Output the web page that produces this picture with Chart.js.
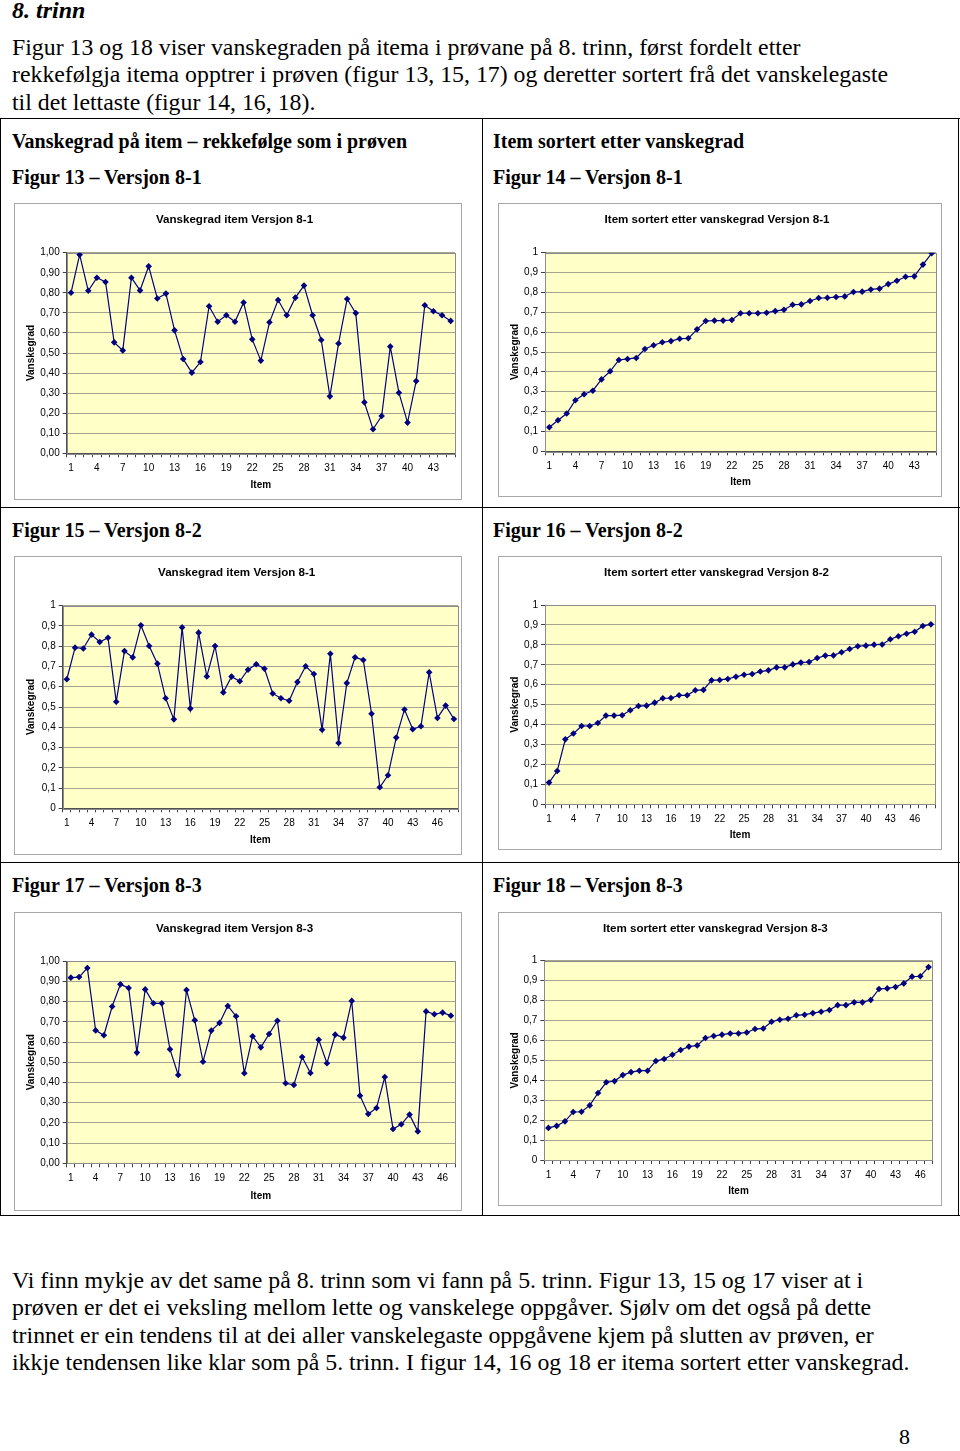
<!DOCTYPE html>
<html><head><meta charset="utf-8">
<script src="https://cdn.jsdelivr.net/npm/chart.js@4/dist/chart.umd.min.js"></script>
<style>
html,body{margin:0;padding:0;background:#fff;}
body{width:960px;height:1451px;position:relative;overflow:hidden;font-family:"Liberation Serif","Times New Roman",serif;color:#000;}
.t{position:absolute;white-space:nowrap;}
.h{font-size:24px;font-weight:bold;font-style:italic;left:12px;top:-2px;line-height:24px;}
.p{font-size:23.8px;line-height:27.3px;left:12px;}
.hd{font-size:20px;font-weight:bold;line-height:20px;}
.ln{position:absolute;background:#000;}
.box{position:absolute;border:1px solid #a8a8a8;box-sizing:border-box;background:#fff;}
canvas.c{position:absolute;}
</style></head>
<body>
<div class="t h">8. trinn</div>
<div class="t p" style="top:34px">Figur 13 og 18 viser vanskegraden på itema i prøvane på 8. trinn, først fordelt etter<br>rekkefølgja itema opptrer i prøven (figur 13, 15, 17) og deretter sortert frå det vanskelegaste<br>til det lettaste (figur 14, 16, 18).</div>

<div class="ln" style="left:0;top:118px;width:960px;height:1px"></div>
<div class="ln" style="left:0;top:118px;width:1px;height:1098px"></div>
<div class="ln" style="left:958px;top:118px;width:1px;height:1098px"></div>
<div class="ln" style="left:482px;top:118px;width:1px;height:1098px"></div>
<div class="ln" style="left:0;top:507px;width:960px;height:1px"></div>
<div class="ln" style="left:0;top:862px;width:960px;height:1px"></div>
<div class="ln" style="left:0;top:1215px;width:960px;height:1px"></div>

<div class="t hd" style="left:12px;top:131px">Vanskegrad på item – rekkefølge som i prøven</div>
<div class="t hd" style="left:493px;top:131px">Item sortert etter vanskegrad</div>
<div class="t hd" style="left:12px;top:167px">Figur 13 – Versjon 8-1</div>
<div class="t hd" style="left:493px;top:167px">Figur 14 – Versjon 8-1</div>
<div class="t hd" style="left:12px;top:520px">Figur 15 – Versjon 8-2</div>
<div class="t hd" style="left:493px;top:520px">Figur 16 – Versjon 8-2</div>
<div class="t hd" style="left:12px;top:875px">Figur 17 – Versjon 8-3</div>
<div class="t hd" style="left:493px;top:875px">Figur 18 – Versjon 8-3</div>

<div id="charts"></div>

<div class="t p" style="top:1267px">Vi finn mykje av det same på 8. trinn som vi fann på 5. trinn. Figur 13, 15 og 17 viser at i<br>prøven er det ei veksling mellom lette og vanskelege oppgåver. Sjølv om det også på dette<br>trinnet er ein tendens til at dei aller vanskelegaste oppgåvene kjem på slutten av prøven, er<br>ikkje tendensen like klar som på 5. trinn. I figur 14, 16 og 18 er itema sortert etter vanskegrad.</div>
<div class="t" style="left:899px;top:1426px;font-size:22px;line-height:22px">8</div>

<script>
// ---- data ----
const items45 = ['1','2','3','4','5','6','7','8','9','10','11','12','13','14','15','16','17','18','19','20','21','22','23','24','25','26','27','28','29','30','31','32','33','34','35','36','37','38','39','40','41','42','43','44','45'];
const items47 = ['1','2','3','4','5','6','7','8','9','10','11','12','13','14','15','16','17','18','19','20','21','22','23','24','25','26','27','28','29','30','31','32','33','34','35','36','37','38','39','40','41','42','43','44','45','46','47'];
const items48 = ['1','2','3','4','5','6','7','8','9','10','11','12','13','14','15','16','17','18','19','20','21','22','23','24','25','26','27','28','29','30','31','32','33','34','35','36','37','38','39','40','41','42','43','44','45','46','47','48'];

const yTicks2 = ['0,00','0,10','0,20','0,30','0,40','0,50','0,60','0,70','0,80','0,90','1,00'];
const yTicks1 = ['0','0,1','0,2','0,3','0,4','0,5','0,6','0,7','0,8','0,9','1'];

const fig13 = [0.80,0.99,0.81,0.875,0.854,0.553,0.513,0.875,0.812,0.932,0.772,0.796,0.613,0.47,0.402,0.455,0.733,0.656,0.688,0.656,0.752,0.568,0.462,0.653,0.764,0.688,0.776,0.836,0.688,0.565,0.284,0.547,0.769,0.699,0.254,0.12,0.186,0.532,0.302,0.153,0.36,0.738,0.708,0.688,0.66];
const fig14 = [0.121,0.156,0.19,0.257,0.287,0.305,0.362,0.403,0.46,0.465,0.47,0.515,0.534,0.549,0.555,0.567,0.569,0.614,0.656,0.658,0.658,0.661,0.695,0.695,0.695,0.698,0.706,0.713,0.738,0.74,0.757,0.772,0.773,0.777,0.78,0.802,0.804,0.815,0.819,0.842,0.859,0.879,0.881,0.94,0.997];
const fig15 = [0.637,0.793,0.789,0.857,0.821,0.842,0.526,0.776,0.745,0.903,0.801,0.714,0.543,0.439,0.893,0.492,0.867,0.651,0.801,0.572,0.65,0.627,0.684,0.711,0.689,0.567,0.543,0.531,0.623,0.701,0.663,0.388,0.763,0.322,0.618,0.745,0.732,0.467,0.104,0.163,0.349,0.488,0.39,0.405,0.671,0.446,0.507,0.441];
const fig16 = [0.109,0.167,0.326,0.355,0.393,0.393,0.408,0.445,0.445,0.447,0.472,0.493,0.495,0.51,0.532,0.533,0.547,0.547,0.572,0.574,0.622,0.624,0.629,0.64,0.65,0.654,0.666,0.672,0.687,0.687,0.702,0.711,0.714,0.734,0.746,0.747,0.763,0.779,0.793,0.796,0.801,0.802,0.828,0.843,0.856,0.866,0.895,0.903];
const fig17 = [0.919,0.922,0.967,0.658,0.634,0.776,0.886,0.868,0.548,0.861,0.792,0.792,0.564,0.437,0.858,0.708,0.503,0.657,0.695,0.779,0.728,0.446,0.629,0.574,0.64,0.706,0.396,0.388,0.526,0.447,0.612,0.495,0.637,0.622,0.804,0.335,0.244,0.274,0.427,0.17,0.193,0.241,0.158,0.752,0.738,0.746,0.731];
const fig18 = [0.161,0.171,0.194,0.241,0.242,0.274,0.336,0.39,0.396,0.426,0.441,0.448,0.448,0.497,0.507,0.528,0.552,0.569,0.575,0.612,0.622,0.629,0.635,0.635,0.64,0.657,0.66,0.694,0.704,0.709,0.726,0.729,0.737,0.744,0.753,0.777,0.777,0.791,0.791,0.803,0.858,0.861,0.868,0.886,0.92,0.922,0.968];

const titles = ['Vanskegrad item Versjon 8-1','Item sortert etter vanskegrad Versjon 8-1','Vanskegrad item Versjon 8-1','Item sortert etter vanskegrad Versjon 8-2','Vanskegrad item Versjon 8-3','Item sortert etter vanskegrad Versjon 8-3'];

// ---- layout (box: l,t,r,b ; plot: l,t,r,b ; titleY) ----
const specs = [
  {labels:items45, values:fig13, yl:yTicks2, title:titles[0], box:[14,203,462,500], plot:[66.7,252.7,455,453.3], ty:220},
  {labels:items45, values:fig14, yl:yTicks1, title:titles[1], box:[498,203,942,497], plot:[545,252.7,936,451.3], ty:220},
  {labels:items48, values:fig15, yl:yTicks1, title:titles[2], box:[14,556,462,855], plot:[62.7,605.7,459.3,808.3], ty:573},
  {labels:items48, values:fig16, yl:yTicks1, title:titles[3], box:[498,556,942,850], plot:[545,605,935,804.3], ty:573},
  {labels:items47, values:fig17, yl:yTicks2, title:titles[4], box:[14,912,462,1211], plot:[66.7,961.3,455,1163.3], ty:929},
  {labels:items47, values:fig18, yl:yTicks1, title:titles[5], box:[498,912,942,1206], plot:[544.3,960.7,932.7,1160], ty:929}
];

const bgPlugin = {
  id:'plotbg',
  beforeDraw(chart){
    const a = chart.chartArea, ctx = chart.ctx;
    ctx.save(); ctx.fillStyle = '#ffffc8';
    ctx.fillRect(a.left, a.top, a.right-a.left, a.bottom-a.top);
    ctx.restore();
  },
  beforeDatasetsDraw(chart){
    const a = chart.chartArea, ctx = chart.ctx;
    ctx.save(); ctx.strokeStyle = '#8c8c8c'; ctx.lineWidth = 1;
    ctx.strokeRect(Math.round(a.left)+0.5, Math.round(a.top)+0.5, Math.round(a.right-a.left), Math.round(a.bottom-a.top));
    ctx.restore();
  }
};

const FONT = 'Liberation Sans, Arial, sans-serif';
const host = document.getElementById('charts');
specs.forEach((s, k) => {
  const [bl,bt,br,bb] = s.box, [pl,pt,pr,pb] = s.plot;
  const W = br-bl, H = bb-bt;
  const box = document.createElement('div');
  box.className = 'box';
  box.style.cssText = `left:${bl}px;top:${bt}px;width:${W}px;height:${H}px`;
  host.appendChild(box);
  const cv = document.createElement('canvas');
  cv.className = 'c'; cv.width = W; cv.height = H;
  cv.style.cssText = `left:${bl}px;top:${bt}px;width:${W}px;height:${H}px`;
  host.appendChild(cv);
  const tSize = 11.6, tLH = tSize*1.2;
  const tPadTop = s.ty - bt - tLH/2;
  const tPadBot = pt - bt - tPadTop - tLH;
  new Chart(cv, {
    type:'line',
    data:{labels:s.labels, datasets:[{data:s.values, borderColor:'#000080', backgroundColor:'#000080', borderWidth:1.2, tension:0, pointStyle:'rectRot', pointRadius:3.3, pointBorderWidth:0, fill:false}]},
    options:{
      responsive:false, animation:false, devicePixelRatio:1,
      layout:{padding:{left:0, top:0, right:br-pr, bottom:0}},
      plugins:{
        legend:{display:false}, tooltip:{enabled:false},
        title:{display:true, text:s.title, color:'#000', font:{family:FONT, size:tSize, weight:'bold'}, padding:{top:tPadTop, bottom:tPadBot}}
      },
      scales:{
        x:{type:'category', offset:true,
           grid:{display:true, drawOnChartArea:false, drawTicks:true, tickLength:4, offset:true, tickColor:'#404040'},
           border:{display:true, color:'#505050', width:1},
           ticks:{autoSkip:false, maxRotation:0, minRotation:0, padding:5, color:'#000', font:{family:FONT, size:10},
                  callback:function(v,i){ return i%3===0 ? this.getLabelForValue(v) : ''; }},
           title:{display:true, text:'Item', color:'#000', font:{family:FONT, size:10, weight:'bold'}, padding:{top:0,bottom:8.5}},
           afterFit(sc){ sc.height = bb - pb; }
        },
        y:{min:0, max:1,
           grid:{color:'#a6a690', lineWidth:1, drawTicks:true, tickLength:4, tickColor:'#404040'},
           border:{display:true, color:'#505050', width:1},
           ticks:{stepSize:0.1, padding:3, color:'#000', font:{family:FONT, size:10},
                  callback:(v,i)=> s.yl[i]},
           title:{display:true, text:'Vanskegrad', color:'#000', font:{family:FONT, size:10, weight:'bold'}, padding:{top:11.5,bottom:0}},
           afterFit(sc){ sc.width = pl - bl; }
        }
      }
    },
    plugins:[bgPlugin]
  });
});
</script>
</body></html>
